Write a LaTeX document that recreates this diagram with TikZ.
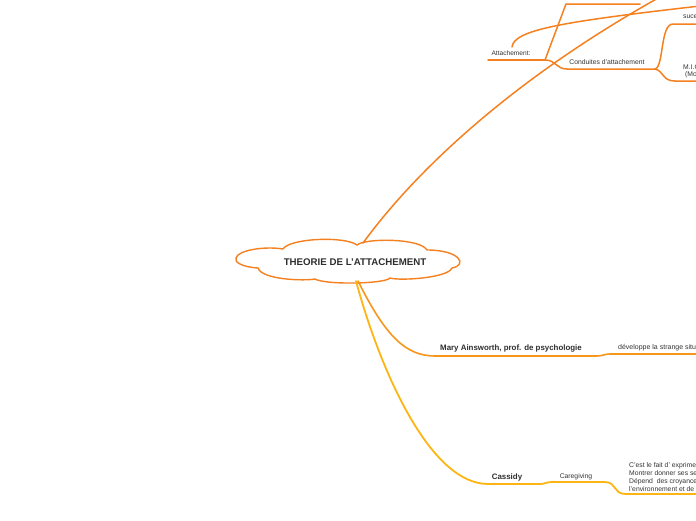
\documentclass[tikz,border=0pt]{standalone}
\usepackage{fontspec}
\setmainfont{Liberation Sans}
\usetikzlibrary{positioning}
\definecolor{corange}{RGB}{245, 128, 32}
\definecolor{camber}{RGB}{247, 150, 29}
\definecolor{cyellow}{RGB}{253, 181, 20}
\definecolor{ctext}{RGB}{51, 51, 51}
\tikzset{
  lab/.style={font=\fontsize{7}{8}\selectfont, text=ctext, inner sep=0pt},
  labb/.style={font=\bfseries\fontsize{7.9}{9}\selectfont, text=ctext!90!black, inner sep=0pt},
  topbr/.style={draw=corange, line width=1.5pt, line cap=round},
  midbr/.style={draw=camber, line width=1.6pt, line cap=round},
  lowbr/.style={draw=cyellow, line width=1.8pt, line cap=round},
  cloud/.style={draw=corange, line width=1.4pt, fill=white},
}

\begin{document}
\begin{tikzpicture}[x=1pt, y=-1pt]
\useasboundingbox (0,0) rectangle (696,520);
\clip (0,0) rectangle (696,520);

% ---------- coordonnées des branches ----------
\coordinate (rootN) at (363,243);
\coordinate (rootS1) at (358,281);
\coordinate (rootS2) at (356,281);
\coordinate (topoff) at (660,-3);
\coordinate (attL) at (488,60);
\coordinate (j1) at (545,60);
\coordinate (attT) at (512,47);
\coordinate (rightoff) at (700,6);
\coordinate (topL) at (566,4);
\coordinate (topR) at (640,4);
\coordinate (cdL) at (567,69);
\coordinate (cdR) at (655,69);
\coordinate (suceL) at (673,24);
\coordinate (suceR) at (700,24);
\coordinate (miL) at (675,81);
\coordinate (miR) at (700,81);
\coordinate (maryL) at (435,356);
\coordinate (maryR) at (597,356);
\coordinate (devL) at (610,354);
\coordinate (devR) at (700,354);
\coordinate (casL) at (488,484);
\coordinate (casR) at (540,484);
\coordinate (carL) at (552,482);
\coordinate (carR) at (604,482);
\coordinate (txtL) at (626,494);
\coordinate (txtR) at (700,494);

% ---------- nuage central ----------
\draw[cloud] (236,258) .. controls (238,250) and (265,246) .. (283,249)
  .. controls (290,238) and (345,236) .. (357,245)
  .. controls (365,238) and (420,238) .. (427,250)
  .. controls (460,250) and (468,265) .. (452,268)
  .. controls (448,278) and (400,281) .. (390,278)
  .. controls (385,284) and (325,285) .. (315,279)
  .. controls (305,281) and (262,280) .. (258,268)
  .. controls (242,267) and (234,262) .. cycle;
\node[font=\bfseries\fontsize{9.7}{11}\selectfont, text=ctext!90!black, inner sep=0pt] (root) at (355,262) {THEORIE DE L'ATTACHEMENT};

% ---------- branche du haut ----------
\draw[topbr] (rootN) .. controls (420,165) and (520,75) .. (topoff);
\node[lab, font=\fontsize{6.6}{8}\selectfont] (attach) at (511,53) {Attachement:};
\draw[topbr] (attL) -- (j1);
\draw[topbr] (attT) .. controls (514,30) and (560,22) .. (rightoff);
\draw[topbr] (j1) -- (topL) -- (topR);
\node[lab, font=\fontsize{6.8}{8}\selectfont] (cond) at (607,62) {Conduites d'attachement};
\draw[topbr] (j1) .. controls (556,60) and (556,69) .. (cdL) -- (cdR);
\draw[topbr] (cdR) .. controls (664,67) and (660,24) .. (suceL) -- (suceR);
\draw[topbr] (cdR) .. controls (664,71) and (662,81) .. (miL) -- (miR);
\node[lab, font=\fontsize{6.8}{8}\selectfont, anchor=west] (suce) at (683,17) {suce};
\node[lab, font=\fontsize{6.8}{7.5}\selectfont, anchor=west, align=left] (mio) at (683,71.5) {M.I.O\\\hspace{2pt}(Mo};

% ---------- Mary Ainsworth ----------
\draw[midbr] (rootS1) .. controls (385,335) and (405,356) .. (maryL) -- (maryR)
  .. controls (603,356) and (604,354) .. (devL) -- (devR);
\node[labb] (mary) at (511,348) {Mary Ainsworth, prof. de psychologie};
\node[lab, font=\fontsize{7}{8}\selectfont, anchor=west] (dev) at (618,348) {développe la strange situation};

% ---------- Cassidy ----------
\draw[lowbr] (rootS2) .. controls (380,370) and (430,484) .. (casL) -- (casR)
  .. controls (545,484) and (546,482) .. (carL) -- (carR)
  .. controls (618,482) and (612,494) .. (txtL) -- (txtR);
\node[labb] (cassidy) at (507,477) {Cassidy};
\node[lab, font=\fontsize{6.8}{8}\selectfont] (care) at (576,477) {Caregiving};
\node[lab, font=\fontsize{6.8}{8}\selectfont, anchor=west, align=left] (cest) at (629,477)
  {C'est le fait d' exprimer\\ Montrer donner ses se\\ Dépend\ \ des croyances\\ l'environnement et de};

\end{tikzpicture}
\end{document}
